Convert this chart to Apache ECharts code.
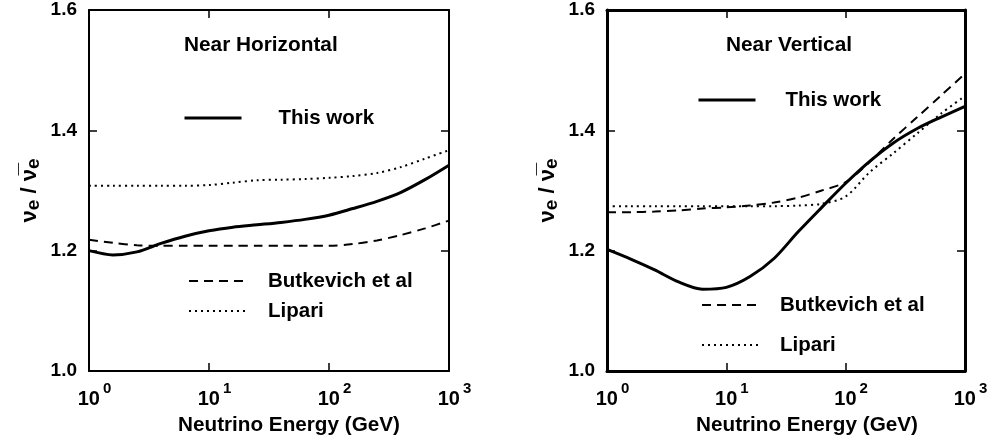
<!DOCTYPE html>
<html>
<head>
<meta charset="utf-8">
<script src="https://cdn.jsdelivr.net/npm/echarts@6/dist/echarts.min.js"></script>
<style>html,body{margin:0;padding:0;background:#fff;}#c{width:994px;height:445px;}</style>
</head>
<body>
<div id="c"></div>
<script>
// Energies (GeV) at which curves were read
const energyGeV = [1, 1.58, 2.51, 3.98, 6.31, 10, 15.8, 25.1, 39.8, 63.1, 100, 158, 251, 398, 631, 1000];
// Near Horizontal panel
const horizThisWork = [1.200, 1.193, 1.198, 1.212, 1.224, 1.233, 1.239, 1.243, 1.247, 1.252, 1.259, 1.270, 1.282, 1.297, 1.318, 1.342];
const horizButkevich = [1.218, 1.213, 1.209, 1.208, 1.208, 1.208, 1.208, 1.208, 1.208, 1.208, 1.208, 1.211, 1.217, 1.226, 1.237, 1.250];
const horizLipari = [1.308, 1.308, 1.308, 1.308, 1.308, 1.309, 1.313, 1.317, 1.318, 1.319, 1.321, 1.324, 1.329, 1.339, 1.353, 1.367];
// Near Vertical panel
const vertThisWork = [1.202, 1.186, 1.168, 1.148, 1.136, 1.139, 1.157, 1.187, 1.231, 1.272, 1.312, 1.348, 1.379, 1.403, 1.422, 1.440];
const vertButkevich = [1.264, 1.264, 1.265, 1.267, 1.270, 1.272, 1.275, 1.280, 1.288, 1.300, 1.314, 1.347, 1.386, 1.422, 1.458, 1.494];
const vertLipari = [1.274, 1.274, 1.274, 1.274, 1.274, 1.274, 1.274, 1.274, 1.275, 1.278, 1.290, 1.330, 1.362, 1.395, 1.428, 1.457];
// Axis settings
const yMin = 1.0, yMax = 1.6, yStep = 0.2;
const xMin = 1, xMax = 1000;
const panelTitles = ['Near Horizontal', 'Near Vertical'];
const seriesNames = ['This work', 'Butkevich et al', 'Lipari'];
const xAxisTitle = 'Neutrino Energy (GeV)';

const FONT = '"Liberation Sans", Arial, sans-serif';
const pair = arr => energyGeV.map((e, i) => [e, arr[i]]);

const grids = [
  {left: 89, top: 10, width: 360, height: 361},
  {left: 607, top: 10, width: 358, height: 361}
];
const frameW = [2, 3];

const xLabelRich = {
  b: {fontFamily: FONT, fontWeight: 'bold', fontSize: 20, color: '#000', padding: [0, 0, 0, 11]},
  s: {fontFamily: FONT, fontWeight: 'bold', fontSize: 15, color: '#000', padding: [0, 0, 22, 3]}
};

const xAxes = [], yAxes = [];
[0, 1].forEach(g => {
  const lineStyle = {color: '#000', width: frameW[g]};
  xAxes.push({
    gridIndex: g, type: 'log', logBase: 10, min: xMin, max: xMax, position: 'bottom',
    axisLine: {show: true, lineStyle}, axisTick: {inside: true, length: 8, lineStyle: {color: '#000', width: 1.5}},
    splitLine: {show: false},
    axisLabel: {margin: 10, formatter: v => '{b|10}{s|' + Math.round(Math.log10(v)) + '}', rich: xLabelRich},
    name: xAxisTitle, nameLocation: 'middle', nameGap: 44,
    nameTextStyle: {fontFamily: FONT, fontWeight: 'bold', fontSize: 20.7, color: '#000', padding: [0, 0, 0, g === 0 ? 40 : 42]}
  });
  xAxes.push({
    gridIndex: g, type: 'log', logBase: 10, min: xMin, max: xMax, position: 'top',
    axisLine: {show: true, lineStyle}, axisTick: {inside: true, length: 8, lineStyle: {color: '#000', width: 1.5}},
    splitLine: {show: false}, axisLabel: {show: false}
  });
  yAxes.push({
    gridIndex: g, type: 'value', min: yMin, max: yMax, interval: yStep, position: 'left',
    axisLine: {show: true, lineStyle}, axisTick: {inside: true, length: 8, lineStyle: {color: '#000', width: 1.5}},
    splitLine: {show: false},
    axisLabel: {margin: 12, formatter: v => v.toFixed(1), fontFamily: FONT, fontWeight: 'bold', fontSize: 19, color: '#000'},
    name: '{n|ν}{s|e}{n| / }{n|ν\u0305}{s|e}', nameLocation: 'middle', nameRotate: 90, nameGap: 46,
    nameTextStyle: {
      rich: {
        n: {fontFamily: FONT, fontWeight: 'bold', fontSize: 22, color: '#000'},
        s: {fontFamily: FONT, fontWeight: 'bold', fontSize: 19, color: '#000', padding: [8, 0, 0, 0]}
      }
    }
  });
  yAxes.push({
    gridIndex: g, type: 'value', min: yMin, max: yMax, interval: yStep, position: 'right',
    axisLine: {show: true, lineStyle}, axisTick: {inside: true, length: 8, lineStyle: {color: '#000', width: 1.5}},
    splitLine: {show: false}, axisLabel: {show: false}
  });
});

const styles = [
  {type: 'solid', width: 3},
  {type: [9, 6], width: 2},
  {type: [2, 4], width: 2}
];
const panelData = [
  [horizThisWork, horizButkevich, horizLipari],
  [vertThisWork, vertButkevich, vertLipari]
];
const series = [];
[0, 1].forEach(g => {
  panelData[g].forEach((arr, k) => {
    series.push({
      name: seriesNames[k], type: 'line', xAxisIndex: g * 2, yAxisIndex: g * 2,
      data: pair(arr), symbol: 'none', smooth: 0.3, silent: true,
      lineStyle: {color: '#000', width: styles[k].width, type: styles[k].type},
      itemStyle: {color: '#000'}
    });
  });
});

const legendPos = [
  [{left: 183, top: 107.5, gap: 32}, {left: 188, top: 270.5, gap: 17}, {left: 188, top: 300.5, gap: 17}],
  [{left: 697, top: 89.5, gap: 25}, {left: 701, top: 294.5, gap: 16}, {left: 701, top: 334.5, gap: 16}]
];
const legends = [];
legendPos.forEach(panel => panel.forEach((p, k) => {
  legends.push({
    data: [seriesNames[k]], left: p.left, top: p.top, itemWidth: 57, itemHeight: 14, padding: 0,
    selectedMode: false, orient: 'horizontal',
    itemStyle: {opacity: 0, borderWidth: 0},
    lineStyle: {width: styles[k].width, type: styles[k].type, color: '#000'},
    textStyle: {fontFamily: FONT, fontWeight: 'bold', fontSize: 20.5, color: '#000', padding: [0, 0, 0, p.gap]}
  });
}));

const titles = [
  {text: panelTitles[0], left: 184, top: 35},
  {text: panelTitles[1], left: 726, top: 35}
].map(t => Object.assign(t, {padding: 0, textStyle: {fontFamily: FONT, fontWeight: 'bold', fontSize: 20.8, color: '#000'}}));

const chart = echarts.init(document.getElementById('c'), null, {renderer: 'canvas'});
chart.setOption({
  animation: false,
  backgroundColor: '#fff',
  title: titles,
  legend: legends,
  grid: grids,
  xAxis: xAxes,
  yAxis: yAxes,
  series: series
});
</script>
</body>
</html>
